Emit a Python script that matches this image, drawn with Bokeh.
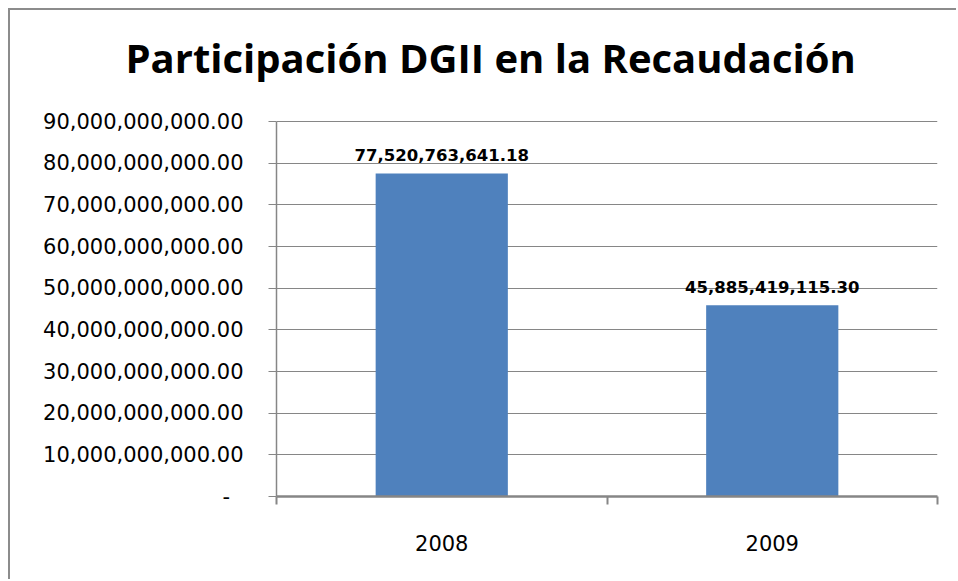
from bokeh.plotting import figure
from bokeh.models import FixedTicker, NumeralTickFormatter, ColumnDataSource, Range1d
from bokeh.embed import file_html
from bokeh.resources import INLINE
from bokeh.core.properties import value

# ---- data ----
years = ["2008", "2009"]
amounts = [77520763641.18, 45885419115.30]
y_ticks = [0, 10e9, 20e9, 30e9, 40e9, 50e9, 60e9, 70e9, 80e9, 90e9]
title_text = "Participación DGII en la Recaudación"

xs = [i + 0.5 for i in range(len(years))]
labels = [f"{v:,.2f}" for v in amounts]
src = ColumnDataSource(dict(x=xs, top=amounts, label=labels))

# frame spans 412px; the value axis (0..90e9) uses the lower 375px of it
frame_h, axis_h = 412, 375
y_end = y_ticks[-1] * frame_h / axis_h

p = figure(width=948, height=571, output_backend="svg", toolbar_location=None,
           x_range=Range1d(0, len(years)), y_range=Range1d(0, y_end),
           min_border_left=266, min_border_right=21, min_border_top=74, min_border_bottom=85,
           styles={"border-left": "2px solid #8c8c8c", "border-top": "2px solid #8c8c8c",
                   "margin-left": "8px", "margin-top": "8px"})
p.outline_line_color = None
p.background_fill_color = "white"
p.border_fill_color = "white"

p.title.text = title_text
p.title.text_font = "Open Sans"
p.title.text_font_style = "bold"
p.title.text_font_size = "40px"
p.title.text_color = "black"
p.title.align = "left"
p.title.vertical_align = "bottom"
p.title.offset = -151
p.title.standoff = 0

p.vbar(x="x", top="top", width=0.4, source=src, fill_color="#4F81BD", line_color=None)

p.text(x="x", y="top", text="label", source=src, text_font=value("DejaVu Sans"),
       text_font_style="bold", text_font_size="16.5px", text_align="center",
       text_baseline="alphabetic", y_offset=-18, text_color="black")

# y axis
ya = p.yaxis[0]
ya.ticker = FixedTicker(ticks=y_ticks, minor_ticks=[])
ya.bounds = (y_ticks[0], y_ticks[-1])
ya.formatter = NumeralTickFormatter(format="0,0.00")
ya.major_label_overrides = {0: "-\u00a0\u00a0"}
ya.major_label_text_font = "DejaVu Sans"
ya.major_label_text_font_size = "21px"
ya.major_label_text_color = "black"
ya.major_tick_out = 8
ya.major_tick_in = 0
ya.major_tick_line_color = "#868686"
ya.axis_line_color = "#868686"
ya.axis_line_width = 1.5
ya.major_label_standoff = 25

# x axis
xa = p.xaxis[0]
xa.ticker = FixedTicker(ticks=xs, minor_ticks=list(range(len(years) + 1)))
xa.major_label_overrides = {x: y for x, y in zip(xs, years)}
xa.major_label_text_font = "DejaVu Sans"
xa.major_label_text_font_size = "21px"
xa.major_label_text_color = "black"
xa.major_tick_line_color = None
xa.major_tick_out = 0
xa.major_tick_in = 0
xa.minor_tick_out = 8
xa.minor_tick_in = 0
xa.minor_tick_line_color = "#868686"
xa.minor_tick_line_width = 2
xa.axis_line_color = "#868686"
xa.axis_line_width = 2.5
xa.major_label_standoff = 30

p.xgrid.grid_line_color = None
p.ygrid.ticker = FixedTicker(ticks=y_ticks)
p.ygrid.grid_line_color = "#868686"
p.ygrid.grid_line_width = 1.2

open("out.html", "w").write(file_html(p, INLINE))
